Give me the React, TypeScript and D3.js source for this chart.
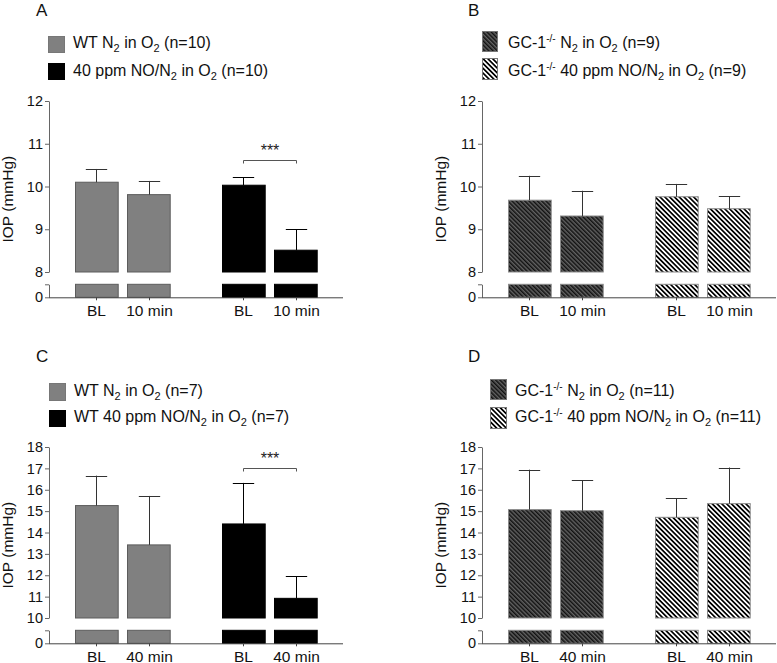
import React, { useRef, useEffect } from "react";
import * as d3 from "d3";

// x axis time points
const timesShort = ["BL", "10 min"];
const timesLong = ["BL", "40 min"];

// y ticks of the upper (broken) axis segment
const ticksShort = [8, 9, 10, 11, 12];
const ticksLong = [10, 11, 12, 13, 14, 15, 16, 17, 18];

// IOP means and SEM (mmHg)
const aN2Mean = [10.1, 9.81];
const aN2Sem = [0.31, 0.32];
const aNoMean = [10.03, 8.51];
const aNoSem = [0.19, 0.49];

const bN2Mean = [9.68, 9.31];
const bN2Sem = [0.57, 0.59];
const bNoMean = [9.76, 9.48];
const bNoSem = [0.3, 0.29];

const cN2Mean = [15.26, 13.42];
const cN2Sem = [1.4, 2.29];
const cNoMean = [14.4, 10.92];
const cNoSem = [1.92, 1.03];

const dN2Mean = [15.07, 15.02];
const dN2Sem = [1.87, 1.42];
const dNoMean = [14.71, 15.35];
const dNoSem = [0.9, 1.69];

// significance bracket height (null = none)
const sigA = 10.62;
const sigC = 17.04;

// legend entries, split in pieces: [text, "sub" | "sup" | ""]
type Piece = [string, string];
const legendA: Piece[][] = [
  [["WT N", ""], ["2", "sub"], [" in O", ""], ["2", "sub"], [" (n=10)", ""]],
  [["40 ppm NO/N", ""], ["2", "sub"], [" in O", ""], ["2", "sub"], [" (n=10)", ""]],
];
const legendB: Piece[][] = [
  [["GC-1", ""], ["-/-", "sup"], [" N", ""], ["2", "sub"], [" in O", ""], ["2", "sub"], [" (n=9)", ""]],
  [["GC-1", ""], ["-/-", "sup"], [" 40 ppm NO/N", ""], ["2", "sub"], [" in O", ""], ["2", "sub"], [" (n=9)", ""]],
];
const legendC: Piece[][] = [
  [["WT N", ""], ["2", "sub"], [" in O", ""], ["2", "sub"], [" (n=7)", ""]],
  [["WT 40 ppm NO/N", ""], ["2", "sub"], [" in O", ""], ["2", "sub"], [" (n=7)", ""]],
];
const legendD: Piece[][] = [
  [["GC-1", ""], ["-/-", "sup"], [" N", ""], ["2", "sub"], [" in O", ""], ["2", "sub"], [" (n=11)", ""]],
  [["GC-1", ""], ["-/-", "sup"], [" 40 ppm NO/N", ""], ["2", "sub"], [" in O", ""], ["2", "sub"], [" (n=11)", ""]],
];

const FONT = "'Liberation Sans', Arial, sans-serif";

const fills: Record<string, { fill: string; stroke: string; err: string }> = {
  gray: { fill: "#808080", stroke: "#5c5c5c", err: "#333" },
  black: { fill: "#000", stroke: "#000", err: "#000" },
  hatchDark: { fill: "url(#hatchDark)", stroke: "#8a8a8a", err: "#333" },
  hatchLight: { fill: "url(#hatchLight)", stroke: "#8a8a8a", err: "#333" },
};

function drawPanel(svg: any, p: any) {
  const g = svg.append("g").attr("transform", `translate(${p.ox},${p.oy})`);

  const yUp = d3.scaleLinear().domain(d3.extent(p.ticks) as [number, number]).range([272, 101]);
  const yLow = d3.scaleLinear().domain([0, 1]).range([297.3, 284.3]);

  const gx = d3
    .scaleBand()
    .domain(["N2", "NO"])
    .range([49, 343])
    .paddingInner(0.3514)
    .paddingOuter(0.1757);
  const ix = d3
    .scaleBand()
    .domain(p.times)
    .range([0, gx.bandwidth()])
    .paddingInner(0.1887)
    .paddingOuter(0);

  const series = [
    { key: "N2", mean: p.n2Mean, sem: p.n2Sem, style: fills[p.styles[0]] },
    { key: "NO", mean: p.noMean, sem: p.noSem, style: fills[p.styles[1]] },
  ];

  // bars, upper + lower segment
  series.forEach((s) => {
    const bars = g
      .append("g")
      .selectAll("g")
      .data(p.times.map((t: string, i: number) => ({ t, m: s.mean[i], e: s.sem[i] })))
      .enter()
      .append("g");
    const bx = (d: any) => Math.round(gx(s.key)! + ix(d.t)!) + 0.5;
    bars
      .append("rect")
      .attr("x", bx)
      .attr("y", (d: any) => yUp(d.m))
      .attr("width", ix.bandwidth())
      .attr("height", (d: any) => yUp(yUp.domain()[0]) - yUp(d.m))
      .attr("fill", s.style.fill)
      .attr("stroke", s.style.stroke);
    bars
      .append("rect")
      .attr("x", bx)
      .attr("y", yLow(1))
      .attr("width", ix.bandwidth())
      .attr("height", yLow(0) - yLow(1))
      .attr("fill", s.style.fill)
      .attr("stroke", s.style.stroke);
    // error bars (upper only)
    const cx = (d: any) => Math.round(gx(s.key)! + ix(d.t)! + ix.bandwidth() / 2) + 0.5;
    bars
      .append("line")
      .attr("x1", cx)
      .attr("x2", cx)
      .attr("y1", (d: any) => yUp(d.m))
      .attr("y2", (d: any) => yUp(d.m + d.e))
      .attr("stroke", s.style.err);
    bars
      .append("line")
      .attr("x1", (d: any) => cx(d) - ix.bandwidth() / 4)
      .attr("x2", (d: any) => cx(d) + ix.bandwidth() / 4)
      .attr("y1", (d: any) => Math.round(yUp(d.m + d.e)) + 0.5)
      .attr("y2", (d: any) => Math.round(yUp(d.m + d.e)) + 0.5)
      .attr("stroke", s.style.err);
  });

  // y axes
  const yAxUp = g
    .append("g")
    .attr("transform", "translate(49,0)")
    .call(
      d3
        .axisLeft(yUp)
        .tickValues(p.ticks)
        .tickFormat(d3.format("d") as any)
        .tickSize(4)
        .tickSizeOuter(0)
        .tickPadding(2)
    );
  const yAxLow = g
    .append("g")
    .attr("transform", "translate(49,0)")
    .call(
      d3
        .axisLeft(yLow)
        .tickValues([0, 1])
        .tickFormat((d: any) => (d === 0 ? "0" : ""))
        .tickSize(4)
        .tickSizeOuter(0)
        .tickPadding(2)
    );
  [yAxUp, yAxLow].forEach((ax) => {
    ax.selectAll("path,line").attr("stroke", "#666");
    ax.selectAll("text").attr("font-size", 14.5).attr("font-family", FONT).attr("fill", "#111");
  });

  // x axis
  const keys = ["N2", "NO"].flatMap((k) => p.times.map((t: string) => k + "|" + t));
  const xc = d3
    .scaleOrdinal<string, number>()
    .domain(keys)
    .range(
      keys.map((k) => {
        const [gk, t] = k.split("|");
        return Math.round(gx(gk)! + ix(t)! + ix.bandwidth() / 2);
      })
    );
  const xAx = g
    .append("g")
    .attr("transform", `translate(0,${yLow(0)})`)
    .call(d3.axisBottom(xc as any).tickSize(3).tickPadding(5).tickFormat((k: any) => k.split("|")[1]));
  xAx.select(".domain").remove();
  xAx.selectAll("line").attr("stroke", "#444");
  xAx.selectAll("text").attr("font-size", 15.5).attr("font-family", FONT).attr("fill", "#111");
  g.append("line")
    .attr("x1", gx.range()[0])
    .attr("x2", gx.range()[1])
    .attr("y1", yLow(0) + 0.5)
    .attr("y2", yLow(0) + 0.5)
    .attr("stroke", "#444");

  // y label
  g.append("text")
    .attr("transform", `translate(12.5,${(yUp.range()[1] + yLow.range()[0]) / 2}) rotate(-90)`)
    .attr("text-anchor", "middle")
    .attr("font-size", 15.5)
    .attr("font-family", FONT)
    .attr("fill", "#111")
    .text("IOP (mmHg)");

  // significance bracket
  if (p.sig != null) {
    const x1 = xc("NO|" + p.times[0]) + 0.5;
    const x2 = xc("NO|" + p.times[1]) + 0.5;
    const yb = Math.round(yUp(p.sig)) + 0.5;
    g.append("path")
      .attr("d", `M${x1},${yb + 3}V${yb}H${x2}V${yb + 3}`)
      .attr("fill", "none")
      .attr("stroke", "#555");
    g.append("text")
      .attr("x", (x1 + x2) / 2)
      .attr("y", yb - 4.5)
      .attr("text-anchor", "middle")
      .attr("font-size", 16)
      .attr("font-family", FONT)
      .attr("fill", "#222")
      .text("***");
  }

  // panel letter
  svg
    .append("text")
    .attr("x", p.letterPos[0])
    .attr("y", p.letterPos[1])
    .attr("font-size", 17)
    .attr("font-family", FONT)
    .attr("fill", "#111")
    .text(p.letter);

  // legend
  p.legend.forEach((entry: Piece[], i: number) => {
    const st = fills[p.styles[i]];
    const sw = p.swatch[i];
    svg
      .append("rect")
      .attr("x", sw[0] + 0.5)
      .attr("y", sw[1] + 0.5)
      .attr("width", sw[2])
      .attr("height", sw[3])
      .attr("fill", st.fill)
      .attr("stroke", st.stroke === "#000" ? "#000" : "#777");
    const t = svg
      .append("text")
      .attr("x", p.textX)
      .attr("y", p.textY[i])
      .attr("font-size", 16)
      .attr("font-family", FONT)
      .attr("fill", "#111");
    let shift = 0;
    entry.forEach(([txt, kind]) => {
      const target = kind === "sub" ? 4 : kind === "sup" ? -6 : 0;
      t.append("tspan")
        .attr("dy", target - shift)
        .attr("font-size", kind === "" ? 16 : kind === "sub" ? 11 : 10)
        .text(txt);
      shift = target;
    });
  });
}

function Chart() {
  const ref = useRef<SVGSVGElement>(null);

  useEffect(() => {
    const svg = d3.select(ref.current);
    svg.selectAll("*").remove();

    // hatch patterns
    const defs = svg.append("defs");
    const dark = defs
      .append("pattern")
      .attr("id", "hatchDark")
      .attr("patternUnits", "userSpaceOnUse")
      .attr("width", 3)
      .attr("height", 3)
      .attr("patternTransform", "rotate(-45)");
    dark.append("rect").attr("width", 3).attr("height", 3).attr("fill", "#626262");
    dark.append("rect").attr("width", 1.5).attr("height", 3).attr("fill", "#111");
    const light = defs
      .append("pattern")
      .attr("id", "hatchLight")
      .attr("patternUnits", "userSpaceOnUse")
      .attr("width", 3.4)
      .attr("height", 3.4)
      .attr("patternTransform", "rotate(-45)");
    light.append("rect").attr("width", 3.4).attr("height", 3.4).attr("fill", "#fff");
    light.append("rect").attr("width", 1.7).attr("height", 3.4).attr("fill", "#000");

    const panels = [
      {
        letter: "A", ox: 0, oy: 0, times: timesShort, ticks: ticksShort,
        n2Mean: aN2Mean, n2Sem: aN2Sem, noMean: aNoMean, noSem: aNoSem, sig: sigA,
        styles: ["gray", "black"], legend: legendA,
        letterPos: [36, 16], swatch: [[48, 36, 16, 16], [48, 63, 16, 16]], textX: 73, textY: [48, 76],
      },
      {
        letter: "B", ox: 433, oy: 0, times: timesShort, ticks: ticksShort,
        n2Mean: bN2Mean, n2Sem: bN2Sem, noMean: bNoMean, noSem: bNoSem, sig: null,
        styles: ["hatchDark", "hatchLight"], legend: legendB,
        letterPos: [468, 16], swatch: [[482, 31, 15, 20], [482, 58, 15, 21]], textX: 508, textY: [48, 76],
      },
      {
        letter: "C", ox: 0, oy: 346, times: timesLong, ticks: ticksLong,
        n2Mean: cN2Mean, n2Sem: cN2Sem, noMean: cNoMean, noSem: cNoSem, sig: sigC,
        styles: ["gray", "black"], legend: legendC,
        letterPos: [36, 361.5], swatch: [[49, 383, 16, 17], [49, 410, 16, 16]], textX: 74, textY: [396, 422],
      },
      {
        letter: "D", ox: 433, oy: 346, times: timesLong, ticks: ticksLong,
        n2Mean: dN2Mean, n2Sem: dN2Sem, noMean: dNoMean, noSem: dNoSem, sig: null,
        styles: ["hatchDark", "hatchLight"], legend: legendD,
        letterPos: [468, 362], swatch: [[490, 379, 16, 20], [490, 407, 16, 21]], textX: 515, textY: [396, 422],
      },
    ];
    panels.forEach((p) => drawPanel(svg, p));
  });

  return <svg ref={ref} width={777} height={663} style={{ display: "block", background: "#fff" }} />;
}

export default function App() {
  return (
    <div style={{ position: "absolute", left: 0, top: 0 }}>
      <Chart />
    </div>
  );
}
